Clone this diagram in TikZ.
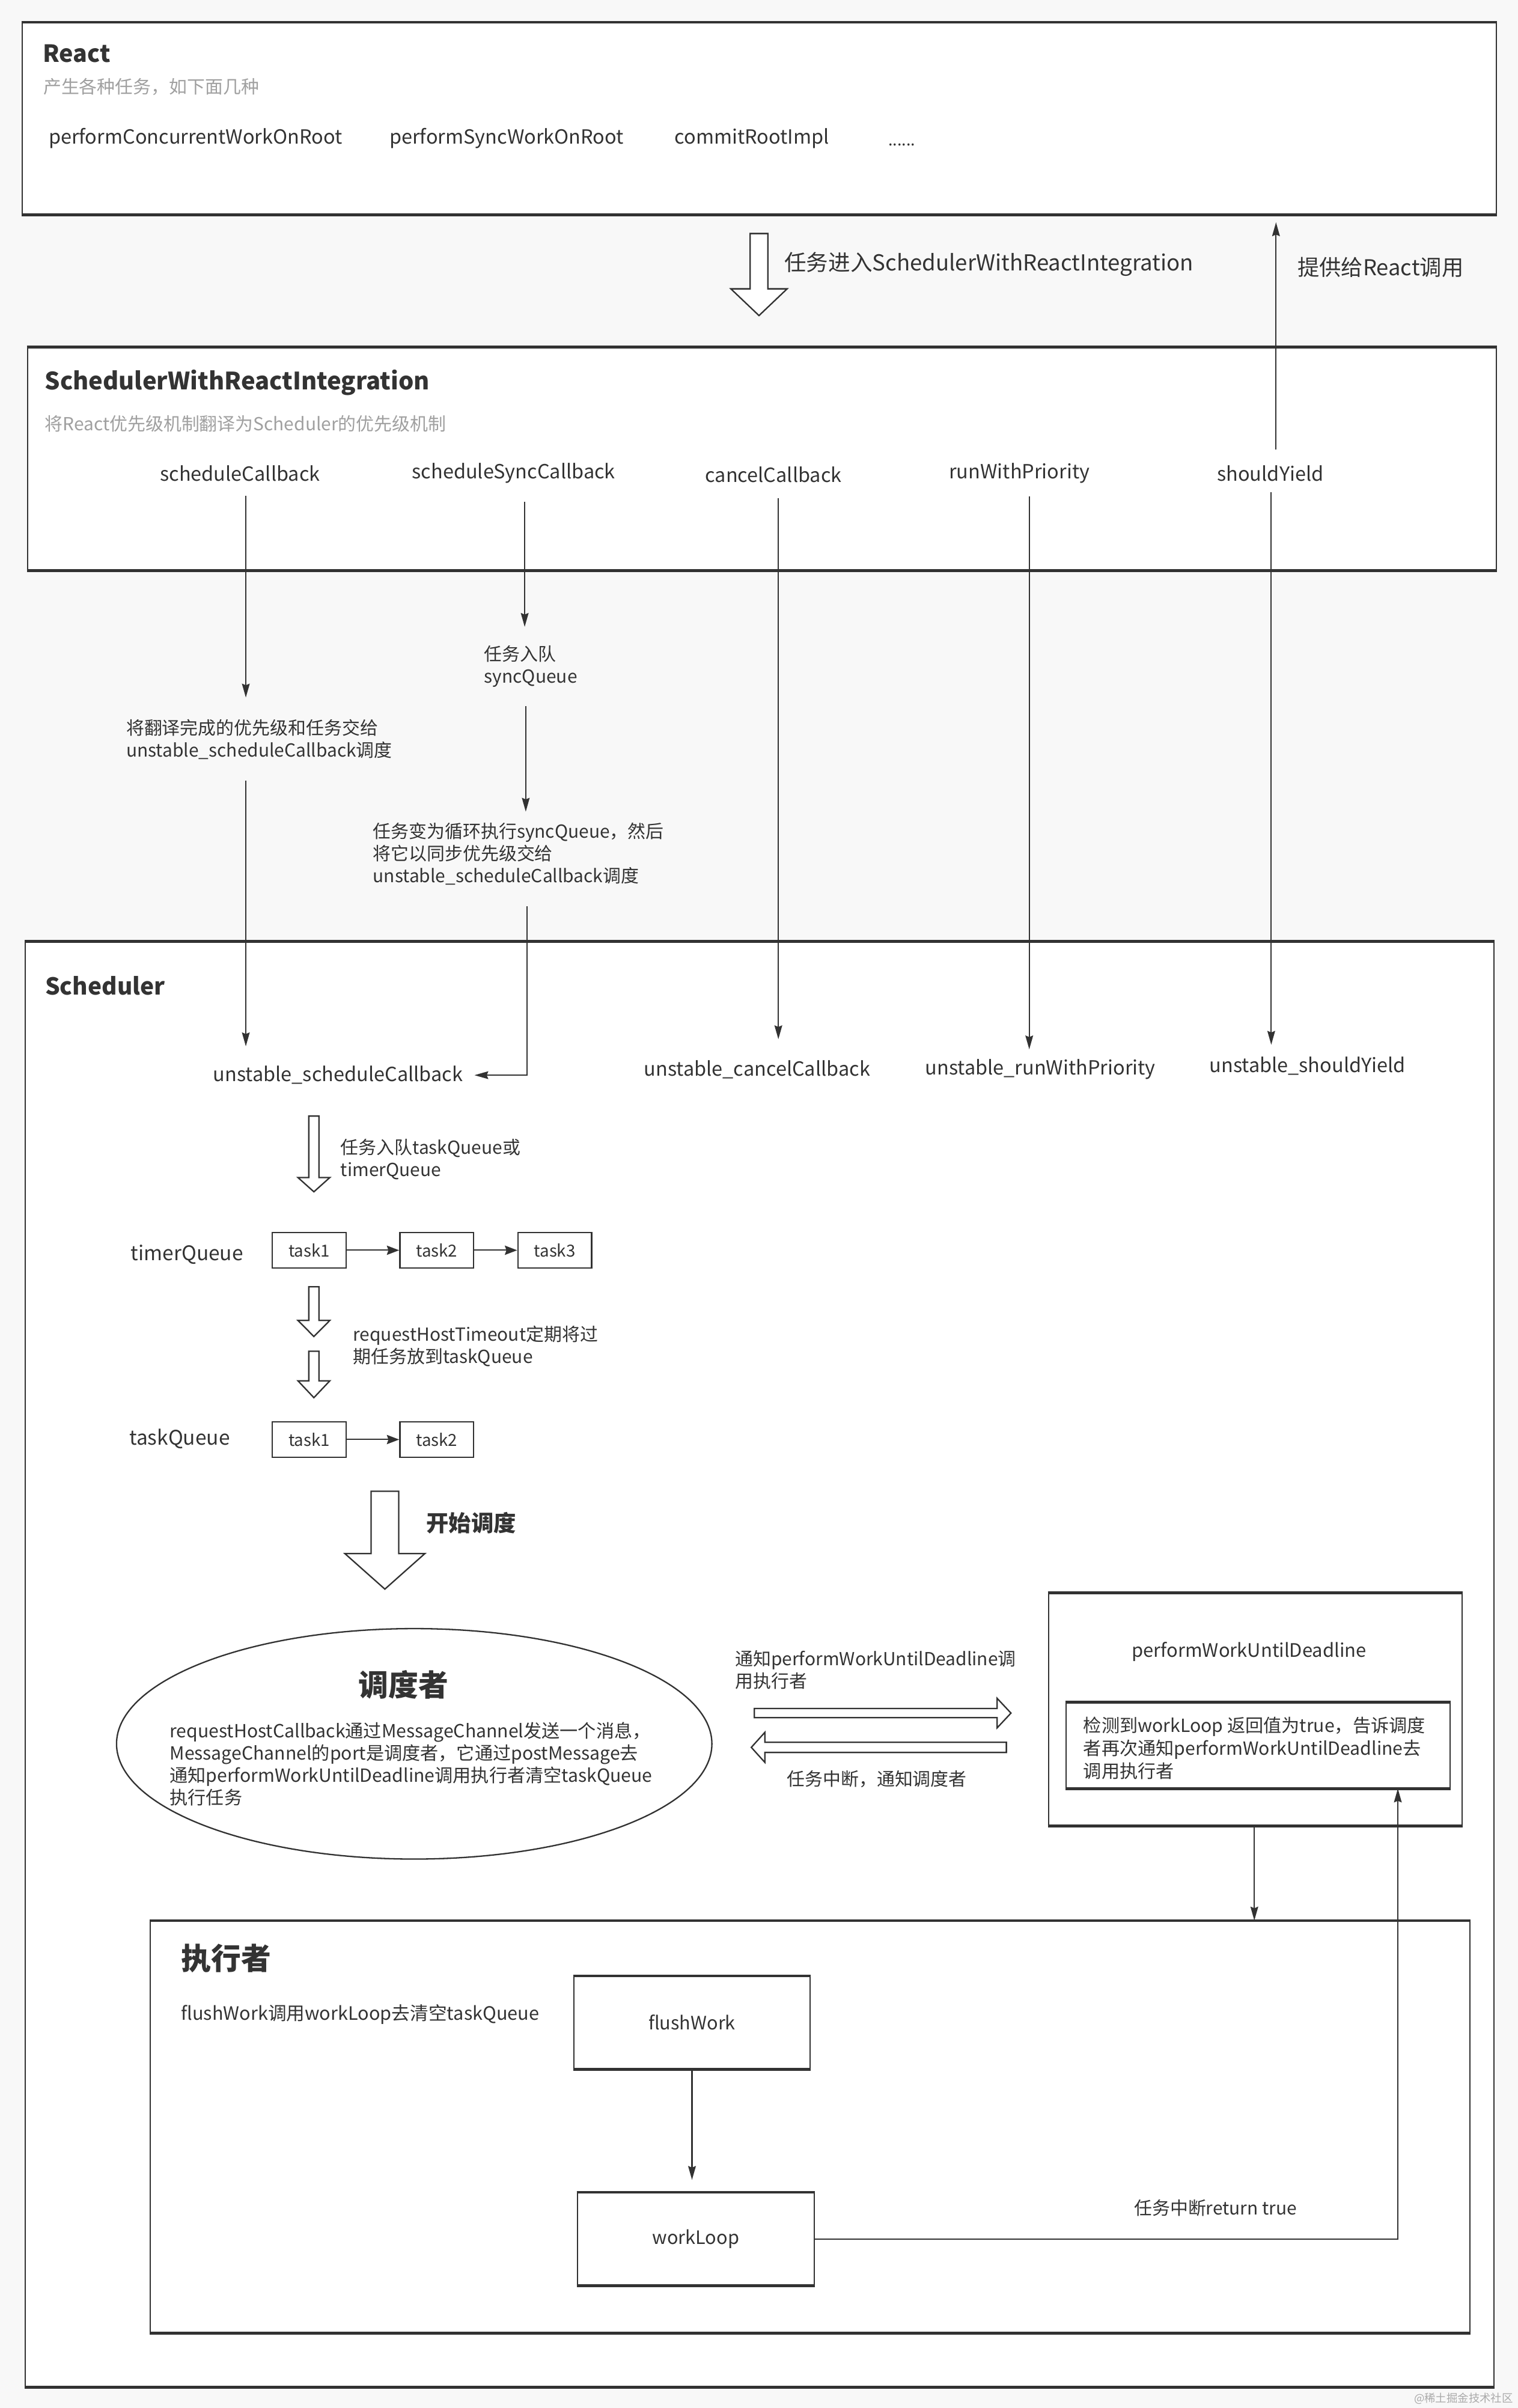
\documentclass[tikz,border=0pt]{standalone}
\usepackage{fontspec}
\setmainfont{Noto Sans CJK SC}
\usetikzlibrary{arrows.meta,shapes.geometric}
\definecolor{bg}{HTML}{F8F8F8}
\definecolor{lc}{HTML}{323232}
\definecolor{tc}{HTML}{333333}
\definecolor{subc}{HTML}{A0A0A0}
\definecolor{wmc}{HTML}{AAAAAA}
\newcommand\myfs[2]{\fontsize{#1}{#2}\selectfont}
% hollow arrow down: x, ytop, yhead, ytip, shafthalf, headhalf
\newcommand\hdown[6]{\draw[hol] (#1-#5,#2) -- (#1+#5,#2) -- (#1+#5,#3) -- (#1+#6,#3) -- (#1,#4) -- (#1-#6,#3) -- (#1-#5,#3) -- cycle;}
% hollow arrow horizontal: tail x, head-base x, tip x, yc, shafthalf, headhalf
\newcommand\hhoriz[6]{\draw[hol] (#1,#4-#5) -- (#2,#4-#5) -- (#2,#4-#6) -- (#3,#4) -- (#2,#4+#6) -- (#2,#4+#5) -- (#1,#4+#5) -- cycle;}
\newcommand\edges[1]{\draw[lc, line width=1.8pt] (#1.north west) -- (#1.north east) (#1.south west) -- (#1.south east);}
\begin{document}
\begin{tikzpicture}[x=1pt,y=-1pt,
  box/.style={draw=lc, fill=white, line width=0.8pt, inner sep=0pt, anchor=north west, text=tc},
  lbl/.style={inner sep=0pt, anchor=west, text=tc, font=\myfs{12.7}{15}},
  sml/.style={inner sep=0pt, anchor=west, text=tc, font=\myfs{11.7}{14.5}, align=left},
  subt/.style={inner sep=0pt, anchor=west, text=subc, font=\myfs{11.7}{14}},
  ttl/.style={inner sep=0pt, anchor=west, text=tc, font=\bfseries\myfs{15.4}{18}},
  arr/.style={draw=lc, line width=0.8pt, -{Stealth[length=9pt,width=5pt,inset=1pt]}},
  arrt/.style={draw=lc, line width=0.8pt, -{Stealth[length=8pt,width=6pt,inset=1pt]}},
  hol/.style={draw=lc, fill=white, line width=0.9pt},
  task/.style={draw=lc, fill=white, line width=0.9pt, minimum width=48pt, minimum height=23pt, inner sep=0pt, font=\myfs{10.8}{13}, text=tc},
]
\useasboundingbox[fill=bg] (0,0) rectangle (988,1567.3);

% ---------- boxes ----------
\node[box, minimum width=959.7pt, minimum height=124.6pt] (react) at (13.9,14.4) {};
\node[box, minimum width=956pt, minimum height=144.7pt] (swri) at (17.6,225.8) {};
\node[box, minimum width=955.8pt, minimum height=940.2pt] (sched) at (16.2,612.8) {};
\node[box, minimum width=269.3pt, minimum height=151pt] (pwud) at (682,1036.7) {};
\node[box, minimum width=250pt, minimum height=55.3pt] (pwin) at (693.5,1108) {};
\node[box, minimum width=858.9pt, minimum height=267.8pt] (exec) at (97.4,1250) {};
\node[box, minimum width=154pt, minimum height=60pt, font=\myfs{12}{15}] (flush) at (373,1286) {flushWork};
\node[box, minimum width=154.4pt, minimum height=60.2pt, font=\myfs{12}{15}] (wl) at (375.3,1426.8) {workLoop};
\edges{react}\edges{swri}\edges{sched}\edges{pwud}\edges{pwin}\edges{exec}\edges{flush}\edges{wl}
\node[draw=lc, fill=white, ellipse, line width=0.9pt, minimum width=387.5pt, minimum height=150pt, inner sep=0pt] (ell) at (269.6,1135) {};

% ---------- React ----------
\node[ttl] (reactT) at (27.7,35) {React};
\node[subt] (reactS) at (28,56.6) {产生各种任务，如下面几种};
\node[lbl, anchor=base west] (r1) at (31.5,93.5) {performConcurrentWorkOnRoot};
\node[lbl, anchor=base west] (r2) at (253.3,93.5) {performSyncWorkOnRoot};
\node[lbl, anchor=base west] (r3) at (439,93.5) {commitRootImpl};
\node[lbl, anchor=base west, font=\myfs{10.5}{12}] (r4) at (578,95) {......};

% between React and SWRI
\hdown{494}{152}{188}{205.4}{5.8}{18.3}
\node[lbl, font=\myfs{14.3}{17}] (enterL) at (510.4,171.8) {任务进入SchedulerWithReactIntegration};
\node[lbl, font=\myfs{14.2}{17}] (provL) at (844.4,174) {提供给React调用};

% ---------- SchedulerWithReactIntegration ----------
\node[ttl, font=\bfseries\myfs{15.6}{18}] (swriT) at (29,249) {SchedulerWithReactIntegration};
\node[subt] (swriS) at (29,275.8) {将React优先级机制翻译为Scheduler的优先级机制};
\node[lbl] (sc) at (104,308) {scheduleCallback};
\node[lbl] (ssc) at (268,308) {scheduleSyncCallback};
\node[lbl] (cc) at (458.8,309) {cancelCallback};
\node[lbl] (rwp) at (617.5,308) {runWithPriority};
\node[lbl] (sy) at (792,308) {shouldYield};

\node[sml] (scl) at (82,481.2) {将翻译完成的优先级和任务交给\\unstable\_scheduleCallback调度};
\node[sml] (syq) at (315,433.8) {任务入队\\syncQueue};
\node[sml] (ssl) at (242.6,555.9) {任务变为循环执行syncQueue，然后\\将它以同步优先级交给\\unstable\_scheduleCallback调度};

% ---------- Scheduler ----------
\node[ttl, font=\bfseries\myfs{15.2}{18}] (schedT) at (29.2,641.6) {Scheduler};
\node[lbl] (usc) at (138.5,699.8) {unstable\_scheduleCallback};
\node[lbl] (ucc) at (419,696) {unstable\_cancelCallback};
\node[lbl] (urw) at (602,696) {unstable\_runWithPriority};
\node[lbl] (usy) at (787,694) {unstable\_shouldYield};

\hdown{204.3}{726.4}{766.4}{775.7}{3.3}{10.4}
\node[sml] (enqL) at (221.5,754.6) {任务入队taskQueue或\\timerQueue};

\node[lbl, font=\myfs{13.1}{16}] (tq) at (85,816.4) {timerQueue};
\node[task, anchor=north west] (t1) at (176.8,801.8) {task1};
\node[task, anchor=north west] (t2) at (259.8,801.8) {task2};
\node[task, anchor=north west] (t3) at (336.6,801.8) {task3};
\draw[arrt] (t1.east) -- (t2.west);
\draw[arrt] (t2.east) -- (t3.west);

\hdown{204.3}{837.5}{859.4}{869.9}{3.3}{10.4}
\hdown{204.3}{879.5}{898.7}{909.7}{3.3}{10.4}
\node[sml] (rhtL) at (229.6,876.3) {requestHostTimeout定期将过\\期任务放到taskQueue};

\node[lbl, font=\myfs{13.1}{16}] (kq) at (84,936.5) {taskQueue};
\node[task, anchor=north west] (k1) at (176.8,925) {task1};
\node[task, anchor=north west] (k2) at (259.8,925) {task2};
\draw[arrt] (k1.east) -- (k2.west);

\hdown{250.5}{970.6}{1011.2}{1034.3}{9}{26}
\node[lbl, font=\bfseries\myfs{14.6}{17}] (startL) at (277.3,991.4) {开始调度};

% scheduler ellipse
\node[inner sep=0pt, text=tc, font=\bfseries\myfs{19.5}{22}] (ellT) at (262.7,1096.5) {调度者};
\node[sml, font=\myfs{11.8}{14.5}] (ellX) at (110.3,1148.3) {requestHostCallback通过MessageChannel发送一个消息，\\MessageChannel的port是调度者，它通过postMessage去\\通知performWorkUntilDeadline调用执行者清空taskQueue\\执行任务};

% hollow horizontal arrows
\hhoriz{491}{649}{658}{1115}{3}{9.6}
\hhoriz{655}{497.8}{489}{1137.3}{3.3}{9.75}
\node[sml] (notL) at (478.3,1086.8) {通知performWorkUntilDeadline调\\用执行者};
\node[sml] (intL) at (512,1157.8) {任务中断，通知调度者};

% performWorkUntilDeadline
\node[inner sep=0pt, text=tc, font=\myfs{12.1}{15}] (pwT) at (813,1075) {performWorkUntilDeadline};
\node[sml, font=\myfs{11.8}{14.9}] (pwX) at (705,1137.9) {检测到workLoop 返回值为true，告诉调度\\者再次通知performWorkUntilDeadline去\\调用执行者};

% 执行者
\node[ttl, font=\bfseries\myfs{19.5}{22}] (execT) at (117.7,1274.8) {执行者};
\node[sml, font=\myfs{12}{14.5}] (execX) at (117.7,1311) {flushWork调用workLoop去清空taskQueue};
\node[sml] (retL) at (738,1437) {任务中断return true};

% watermark
\node[inner sep=0pt, anchor=east, text=wmc, font=\myfs{7.2}{8.5}] (wm) at (985,1561.3) {@稀土掘金技术社区};

% ---------- connectors ----------
\coordinate (tA) at (160,454);
\coordinate (tB) at (160,681);
\coordinate (tC) at (341.5,408);
\coordinate (tD) at (342.2,528.3);
\coordinate (tE) at (343.1,699.8);
\coordinate (tF) at (506.6,676.4);
\coordinate (tG) at (669.9,683);
\coordinate (tH) at (827.4,680);
\coordinate (xI) at (830.5,0);
\coordinate (xL) at (816.4,0);
\coordinate (xN) at (909.8,0);

\draw[arr, shorten <=9.5pt] (sc.south -| tA) -- (tA);
\draw[arr, shorten <=13.5pt] (scl.south -| tB) -- (tB);
\draw[arr, shorten <=12pt] (ssc.south -| tC) -- (tC);
\draw[arr, shorten <=12pt] (syq.south -| tD) -- (tD);
\draw[arr, shorten <=13.5pt, shorten >=7.4pt] (ssl.south -| tE) -- (tE) -- (usc.east);
\draw[arr, shorten <=9.8pt] (cc.south -| tF) -- (tF);
\draw[arr, shorten <=8.5pt] (rwp.south -| tG) -- (tG);
\draw[arr, shorten <=7pt] (sy.south -| tH) -- (tH);
\draw[arr, shorten <=10pt, shorten >=4.9pt] (sy.north -| xI) -- (xI |- react.south);
\draw[arr] (pwud.south -| xL) -- (xL |- exec.north);
\draw[arr, shorten >=8pt] (flush.south) -- (flush.south |- wl.north);
\draw[arr] (wl.east) -- (wl.east -| xN) -- (xN |- pwin.south);
\end{tikzpicture}
\end{document}
